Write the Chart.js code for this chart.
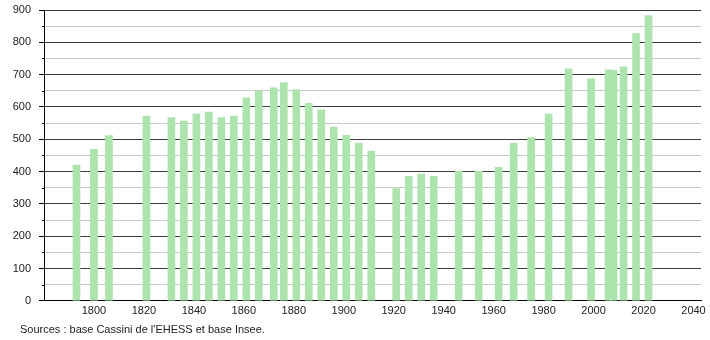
<!DOCTYPE html>
<html>
<head>
<meta charset="utf-8">
<script src="https://cdn.jsdelivr.net/npm/chart.js@4"></script>
<style>
  body { margin: 0; background: #fff; }
  canvas { display: block; }
</style>
</head>
<body>
<canvas id="popChart" width="710" height="340"></canvas>
<script>
// census years and population
const years = [1793, 1800, 1806, 1821, 1831, 1836, 1841, 1846, 1851, 1856,
  1861, 1866, 1872, 1876, 1881, 1886, 1891, 1896, 1901, 1906,
  1911, 1921, 1926, 1931, 1936, 1946, 1954, 1962, 1968, 1975,
  1982, 1990, 1999, 2006, 2008, 2012, 2017, 2022];
const population = [420, 469, 511, 572, 567, 556, 578, 584, 567, 572,
  628, 649, 659, 675, 654, 611, 591, 538, 512, 487,
  463, 347, 385, 392, 385, 401, 401, 413, 487, 505,
  578, 718, 687, 715, 713, 724, 827, 883];
const sourceText = "Sources : base Cassini de l'EHESS et base Insee.";

Chart.defaults.font.family = '"Liberation Sans", Arial, sans-serif';
Chart.defaults.font.size = 11;
Chart.defaults.color = '#222';

// short ticks at the 50s + source line under the chart
const extras = {
  id: 'extras',
  afterDraw(chart) {
    const ctx = chart.ctx;
    const y = chart.scales.y;
    ctx.save();
    ctx.strokeStyle = '#000';
    ctx.lineWidth = 1;
    y.ticks.forEach(t => {
      if (t.value % 100 !== 0) {
        const py = Math.round(y.getPixelForValue(t.value)) + 0.5;
        ctx.beginPath();
        ctx.moveTo(y.right - 2, py);
        ctx.lineTo(y.right, py);
        ctx.stroke();
      }
    });
    ctx.fillStyle = '#222';
    ctx.font = '11px "Liberation Sans", Arial, sans-serif';
    ctx.textBaseline = 'alphabetic';
    ctx.fillText(sourceText, 20, 333);
    ctx.restore();
  }
};

const ctx = document.getElementById('popChart').getContext('2d');
new Chart(ctx, {
  type: 'bar',
  data: {
    datasets: [{
      data: years.map((yr, i) => ({ x: yr, y: population[i] })),
      backgroundColor: '#ade4ae',
      borderWidth: 0,
      barThickness: 7
    }]
  },
  options: {
    responsive: false,
    animation: false,
    layout: { padding: { top: 10, right: 9, bottom: 18, left: 0 } },
    plugins: {
      legend: { display: false },
      tooltip: { enabled: false }
    },
    scales: {
      x: {
        type: 'linear',
        min: 1780,
        max: 2043,
        offset: false,
        afterFit: s => { s.paddingLeft = 0; s.paddingRight = 0; },
        grid: { display: false, drawTicks: false, offset: false },
        border: { display: true, color: '#000', width: 1 },
        ticks: {
          stepSize: 20,
          includeBounds: false,
          padding: 4,
          maxRotation: 0,
          autoSkip: false,
          callback: v => (v % 20 === 0 && v > 1780) ? String(v) : ''
        }
      },
      y: {
        min: 0,
        max: 900,
        afterFit: s => { s.width = 44; s.paddingTop = 0; s.paddingBottom = 0; },
        grid: {
          color: c => (c.tick && c.tick.value % 100 === 0) ? '#3c3c3c' : '#c8c8c8',
          tickColor: c => (c.tick && c.tick.value % 100 === 0) ? '#000' : 'rgba(0,0,0,0)',
          tickLength: 5
        },
        border: { display: true, color: '#000', width: 1 },
        ticks: {
          stepSize: 50,
          padding: 8,
          autoSkip: false,
          callback: v => (v % 100 === 0) ? String(v) : ''
        }
      }
    }
  },
  plugins: [extras]
});
</script>
</body>
</html>
